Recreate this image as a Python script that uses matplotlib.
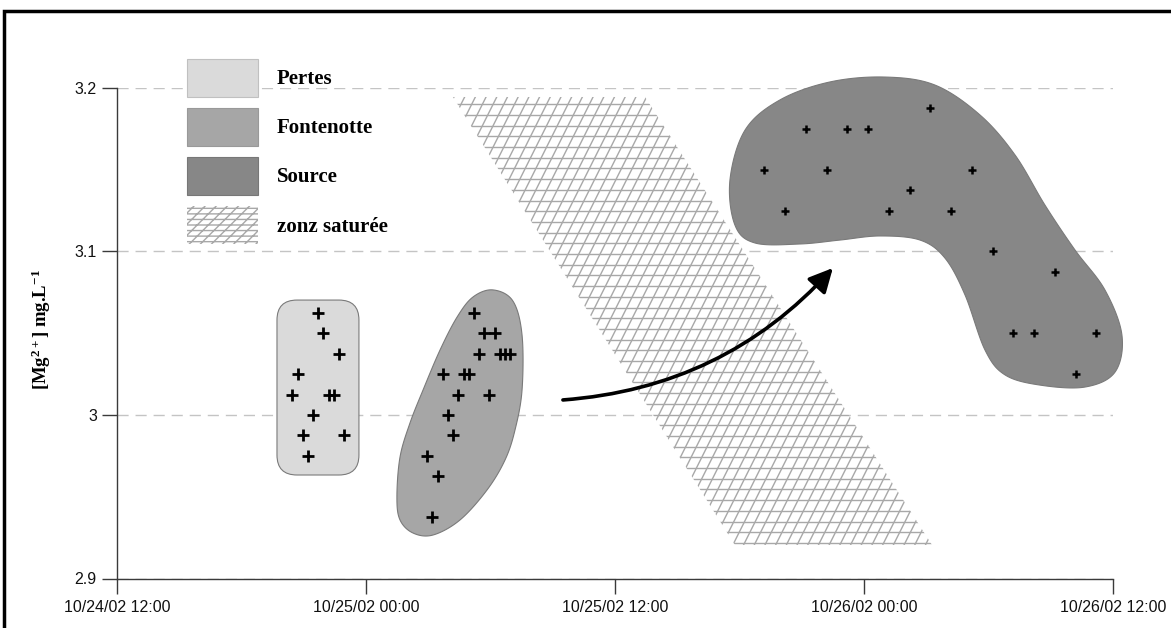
import matplotlib
matplotlib.use("Agg")
import matplotlib.pyplot as plt
import matplotlib.dates as mdates
from matplotlib.patches import Polygon, FancyBboxPatch, FancyArrowPatch, Patch, Rectangle
from matplotlib.collections import LineCollection
from matplotlib.transforms import IdentityTransform
import numpy as np
import pandas as pd

# ---- data: Mg2+ concentration (mg/L) ----
pertes_time = ['2002-10-24 20:27', '2002-10-24 20:42', '2002-10-24 20:57', '2002-10-24 21:12',
               '2002-10-24 21:27', '2002-10-24 21:42', '2002-10-24 21:57', '2002-10-24 22:12',
               '2002-10-24 22:27', '2002-10-24 22:42', '2002-10-24 22:57']
pertes_mg = [3.0125, 3.025, 2.9875, 2.975, 3.0, 3.0625, 3.05, 3.0125, 3.0125, 3.0375, 2.9875]

fontenotte_time = ['2002-10-25 02:57', '2002-10-25 03:12', '2002-10-25 03:27', '2002-10-25 03:42',
                   '2002-10-25 03:57', '2002-10-25 04:12', '2002-10-25 04:27', '2002-10-25 04:42',
                   '2002-10-25 04:57', '2002-10-25 05:12', '2002-10-25 05:27', '2002-10-25 05:42',
                   '2002-10-25 05:57', '2002-10-25 06:12', '2002-10-25 06:27', '2002-10-25 06:42',
                   '2002-10-25 06:57']
fontenotte_mg = [2.975, 2.9375, 2.9625, 3.025, 3.0, 2.9875, 3.0125, 3.025, 3.025, 3.0625,
                 3.0375, 3.05, 3.0125, 3.05, 3.0375, 3.0375, 3.0375]

source_time = ['2002-10-25 19:12', '2002-10-25 20:12', '2002-10-25 21:12', '2002-10-25 22:12',
               '2002-10-25 23:12', '2002-10-26 00:12', '2002-10-26 01:12', '2002-10-26 02:12',
               '2002-10-26 03:12', '2002-10-26 04:12', '2002-10-26 05:12', '2002-10-26 06:12',
               '2002-10-26 07:12', '2002-10-26 08:12', '2002-10-26 09:12', '2002-10-26 10:12',
               '2002-10-26 11:12']
source_mg = [3.15, 3.125, 3.175, 3.15, 3.175, 3.175, 3.125, 3.1375, 3.1875, 3.125, 3.15,
             3.1, 3.05, 3.05, 3.0875, 3.025, 3.05]

# ---- group outlines (hours after START, mg/L) ----
START = pd.Timestamp('2002-10-24 12:00')
pertes_box_h = (7.71, 11.66)
pertes_box_mg = (2.9633, 3.0703)

fontenotte_outline_h = [18.12, 19.08, 19.52, 19.52, 19.18, 18.70, 17.83, 16.53, 15.23, 14.27,
                        13.64, 13.49, 13.64, 14.12, 14.75, 15.57, 16.39, 17.16]
fontenotte_outline_mg = [3.0765, 3.0697, 3.0489, 3.0153, 2.9908, 2.9725, 2.9541, 2.9358, 2.9266,
                         2.9278, 2.9358, 2.9498, 2.9743, 2.9951, 3.0153, 3.0398, 3.0599, 3.0722]

source_outline_h = [29.54, 30.27, 31.95, 34.36, 37.01, 39.42, 41.59, 43.28, 44.72, 46.17, 47.61,
                    48.43, 48.10, 46.65, 44.48, 42.80, 41.83, 40.87, 39.90, 38.70, 36.77, 34.84,
                    32.92, 30.75, 29.78]
source_outline_mg = [3.1437, 3.1743, 3.1927, 3.2037, 3.2067, 3.2018, 3.1835, 3.1590, 3.1284,
                     3.1009, 3.0765, 3.0489, 3.0263, 3.0171, 3.0183, 3.0245, 3.0398, 3.0734,
                     3.0960, 3.1070, 3.1095, 3.1070, 3.1046, 3.1052, 3.1162]

sat_zone_h = [16.19, 25.45, 39.28, 29.78]
sat_zone_mg = [3.1945, 3.1945, 2.9205, 2.9205]

arrow_h = (21.49, 34.5)
arrow_mg = (3.0092, 3.0899)

xtick_labels = ['10/24/02 12:00', '10/25/02 00:00', '10/25/02 12:00', '10/26/02 00:00', '10/26/02 12:00']
ytick_values = [2.9, 3.0, 3.1, 3.2]
ytick_labels = ['2.9', '3', '3.1', '3.2']
legend_labels = ['Pertes', 'Fontenotte', 'Source', 'zonz saturée']

C_PERTES = '#dadada'
C_FONT = '#a6a6a6'
C_SOURCE = '#878787'
C_EDGE = '#7a7a7a'
C_HATCH = '#a8a8a8'

plt.rcParams['mathtext.fontset'] = 'custom'
plt.rcParams['mathtext.rm'] = 'Liberation Serif:bold'
plt.rcParams['mathtext.it'] = 'Liberation Serif:bold'
plt.rcParams['mathtext.bf'] = 'Liberation Serif:bold'
plt.rcParams['hatch.linewidth'] = 1.0


def hnum(hours):
    return mdates.date2num(START + pd.to_timedelta(np.asarray(hours), unit='h'))


def smooth_closed(x, y, n=20):
    # closed Catmull-Rom curve through the outline points
    P = np.column_stack([x, y])
    m = len(P)
    t = np.linspace(0, 1, n, endpoint=False)[:, None]
    out = []
    for i in range(m):
        p0, p1, p2, p3 = P[i - 1], P[i], P[(i + 1) % m], P[(i + 2) % m]
        out.append(0.5 * (2 * p1 + (-p0 + p2) * t + (2 * p0 - 5 * p1 + 4 * p2 - p3) * t ** 2
                          + (-p0 + 3 * p1 - 3 * p2 + p3) * t ** 3))
    return np.vstack(out)


fig = plt.figure(figsize=(11.71, 6.28), dpi=100)
ax = fig.add_axes([117 / 1171, 1 - 578.5 / 628, 996 / 1171, 490.5 / 628])

xticks = [mdates.date2num(START + pd.Timedelta(hours=12 * i)) for i in range(5)]
ax.set_xlim(xticks[0], xticks[-1])
ax.set_ylim(2.9, 3.2)

# grid
ax.set_axisbelow(True)
ax.yaxis.grid(True, color='#c4c4c4', linestyle=(0, (8, 5)), linewidth=1.0)

# outer frame of the figure
fig.add_artist(Rectangle((4 / 1171, -0.5), 2.0, 1.5 - 11 / 628, transform=fig.transFigure,
                         fill=False, edgecolor='black', linewidth=2.5))

# group zones
x1, x2 = hnum(pertes_box_h)
r = 20 / 498.0
ax.add_patch(FancyBboxPatch((x1, pertes_box_mg[0]), x2 - x1, pertes_box_mg[1] - pertes_box_mg[0],
                            boxstyle=f'round,pad=0,rounding_size={r}', mutation_aspect=498 / 1635,
                            facecolor=C_PERTES, edgecolor=C_EDGE, linewidth=0.8, zorder=2))

pts = smooth_closed(hnum(fontenotte_outline_h), fontenotte_outline_mg)
ax.add_patch(Polygon(pts, closed=True, facecolor=C_FONT, edgecolor=C_EDGE, linewidth=0.8, zorder=2))

pts = smooth_closed(hnum(source_outline_h), source_outline_mg)
ax.add_patch(Polygon(pts, closed=True, facecolor=C_SOURCE, edgecolor=C_EDGE, linewidth=0.8,
                     zorder=2, clip_on=False))

# saturated zone with custom slanted cross-hatching
zone = Polygon(np.column_stack([hnum(sat_zone_h), sat_zone_mg]), closed=True,
               facecolor='white', edgecolor='none', zorder=2)
ax.add_patch(zone)
corners = ax.transData.transform(np.column_stack([hnum(sat_zone_h), sat_zone_mg]))
xmin, xmax = corners[:, 0].min(), corners[:, 0].max()
ymin, ymax = corners[:, 1].min(), corners[:, 1].max()
step = 10.7
slant = 0.5
segs = []
for yy in np.arange(ymin + 2, ymax + 1, step):
    segs.append([(xmin - 5, yy), (xmax + 5, yy)])
H = ymax - ymin
for xx in np.arange(xmin - slant * H - step, xmax + step, step):
    segs.append([(xx, ymin - 2), (xx + slant * (H + 4), ymax + 2)])
lc = LineCollection(segs, colors=C_HATCH, linewidths=1.0, transform=IdentityTransform(), zorder=2.5)
ax.add_collection(lc, autolim=False)
lc.set_clip_path(zone)

# measurements
ax.plot(pd.to_datetime(pertes_time), pertes_mg, linestyle='none', marker='+', markersize=8,
        markeredgewidth=2.0, color='black', zorder=4)
ax.plot(pd.to_datetime(fontenotte_time), fontenotte_mg, linestyle='none', marker='+', markersize=8,
        markeredgewidth=2.0, color='black', zorder=4)
ax.plot(pd.to_datetime(source_time), source_mg, linestyle='none', marker='+', markersize=6,
        markeredgewidth=1.8, color='black', zorder=4, clip_on=False)

# arrow from Fontenotte towards Source
ax.add_patch(FancyArrowPatch((hnum(arrow_h[0]), arrow_mg[0]), (hnum(arrow_h[1]), arrow_mg[1]),
                             connectionstyle='arc3,rad=0.2',
                             arrowstyle='-|>,head_length=0.8,head_width=0.4', mutation_scale=18,
                             color='black', linewidth=2.6, shrinkA=0, shrinkB=0, zorder=5))

# axes styling
for side in ['top', 'right']:
    ax.spines[side].set_visible(False)
for side in ['left', 'bottom']:
    ax.spines[side].set_color('#3a3a3a')
    ax.spines[side].set_linewidth(1.0)

tick_font = {'family': 'Liberation Sans', 'size': 11.5}
ax.set_xticks(xticks)
ax.set_xticklabels(xtick_labels, fontdict=tick_font)
ax.set_yticks(ytick_values)
ax.set_yticklabels(ytick_labels, fontdict=tick_font)
ax.tick_params(axis='both', direction='out', length=10.5, width=1.0, color='#3a3a3a', labelcolor='#111111')
ax.tick_params(axis='x', pad=5)
ax.tick_params(axis='y', pad=4)

ax.set_ylabel(r'[Mg$^{2+}$] mg.L$^{-1}$', fontfamily='Liberation Serif', fontweight='bold', fontsize=13.5)
ax.yaxis.set_label_coords((53 - 117) / 996, (578.5 - 330) / 490.5)

# legend
handles = [Patch(facecolor=C_PERTES, edgecolor='#c0c0c0', linewidth=0.8),
           Patch(facecolor=C_FONT, edgecolor='#999999', linewidth=0.8),
           Patch(facecolor=C_SOURCE, edgecolor='#777777', linewidth=0.8),
           Patch(facecolor='white', edgecolor=C_HATCH, linewidth=0, hatch='///---')]
fig.legend(handles, legend_labels, loc='upper left', bbox_to_anchor=(187 / 1171, 1 - 59 / 628),
           bbox_transform=fig.transFigure, frameon=False, borderpad=0, borderaxespad=0,
           handlelength=3.4, handleheight=2.43, labelspacing=0.53, handletextpad=0.9,
           prop={'family': 'Liberation Serif', 'weight': 'bold', 'size': 15})

fig.savefig('out.png', dpi=100)
